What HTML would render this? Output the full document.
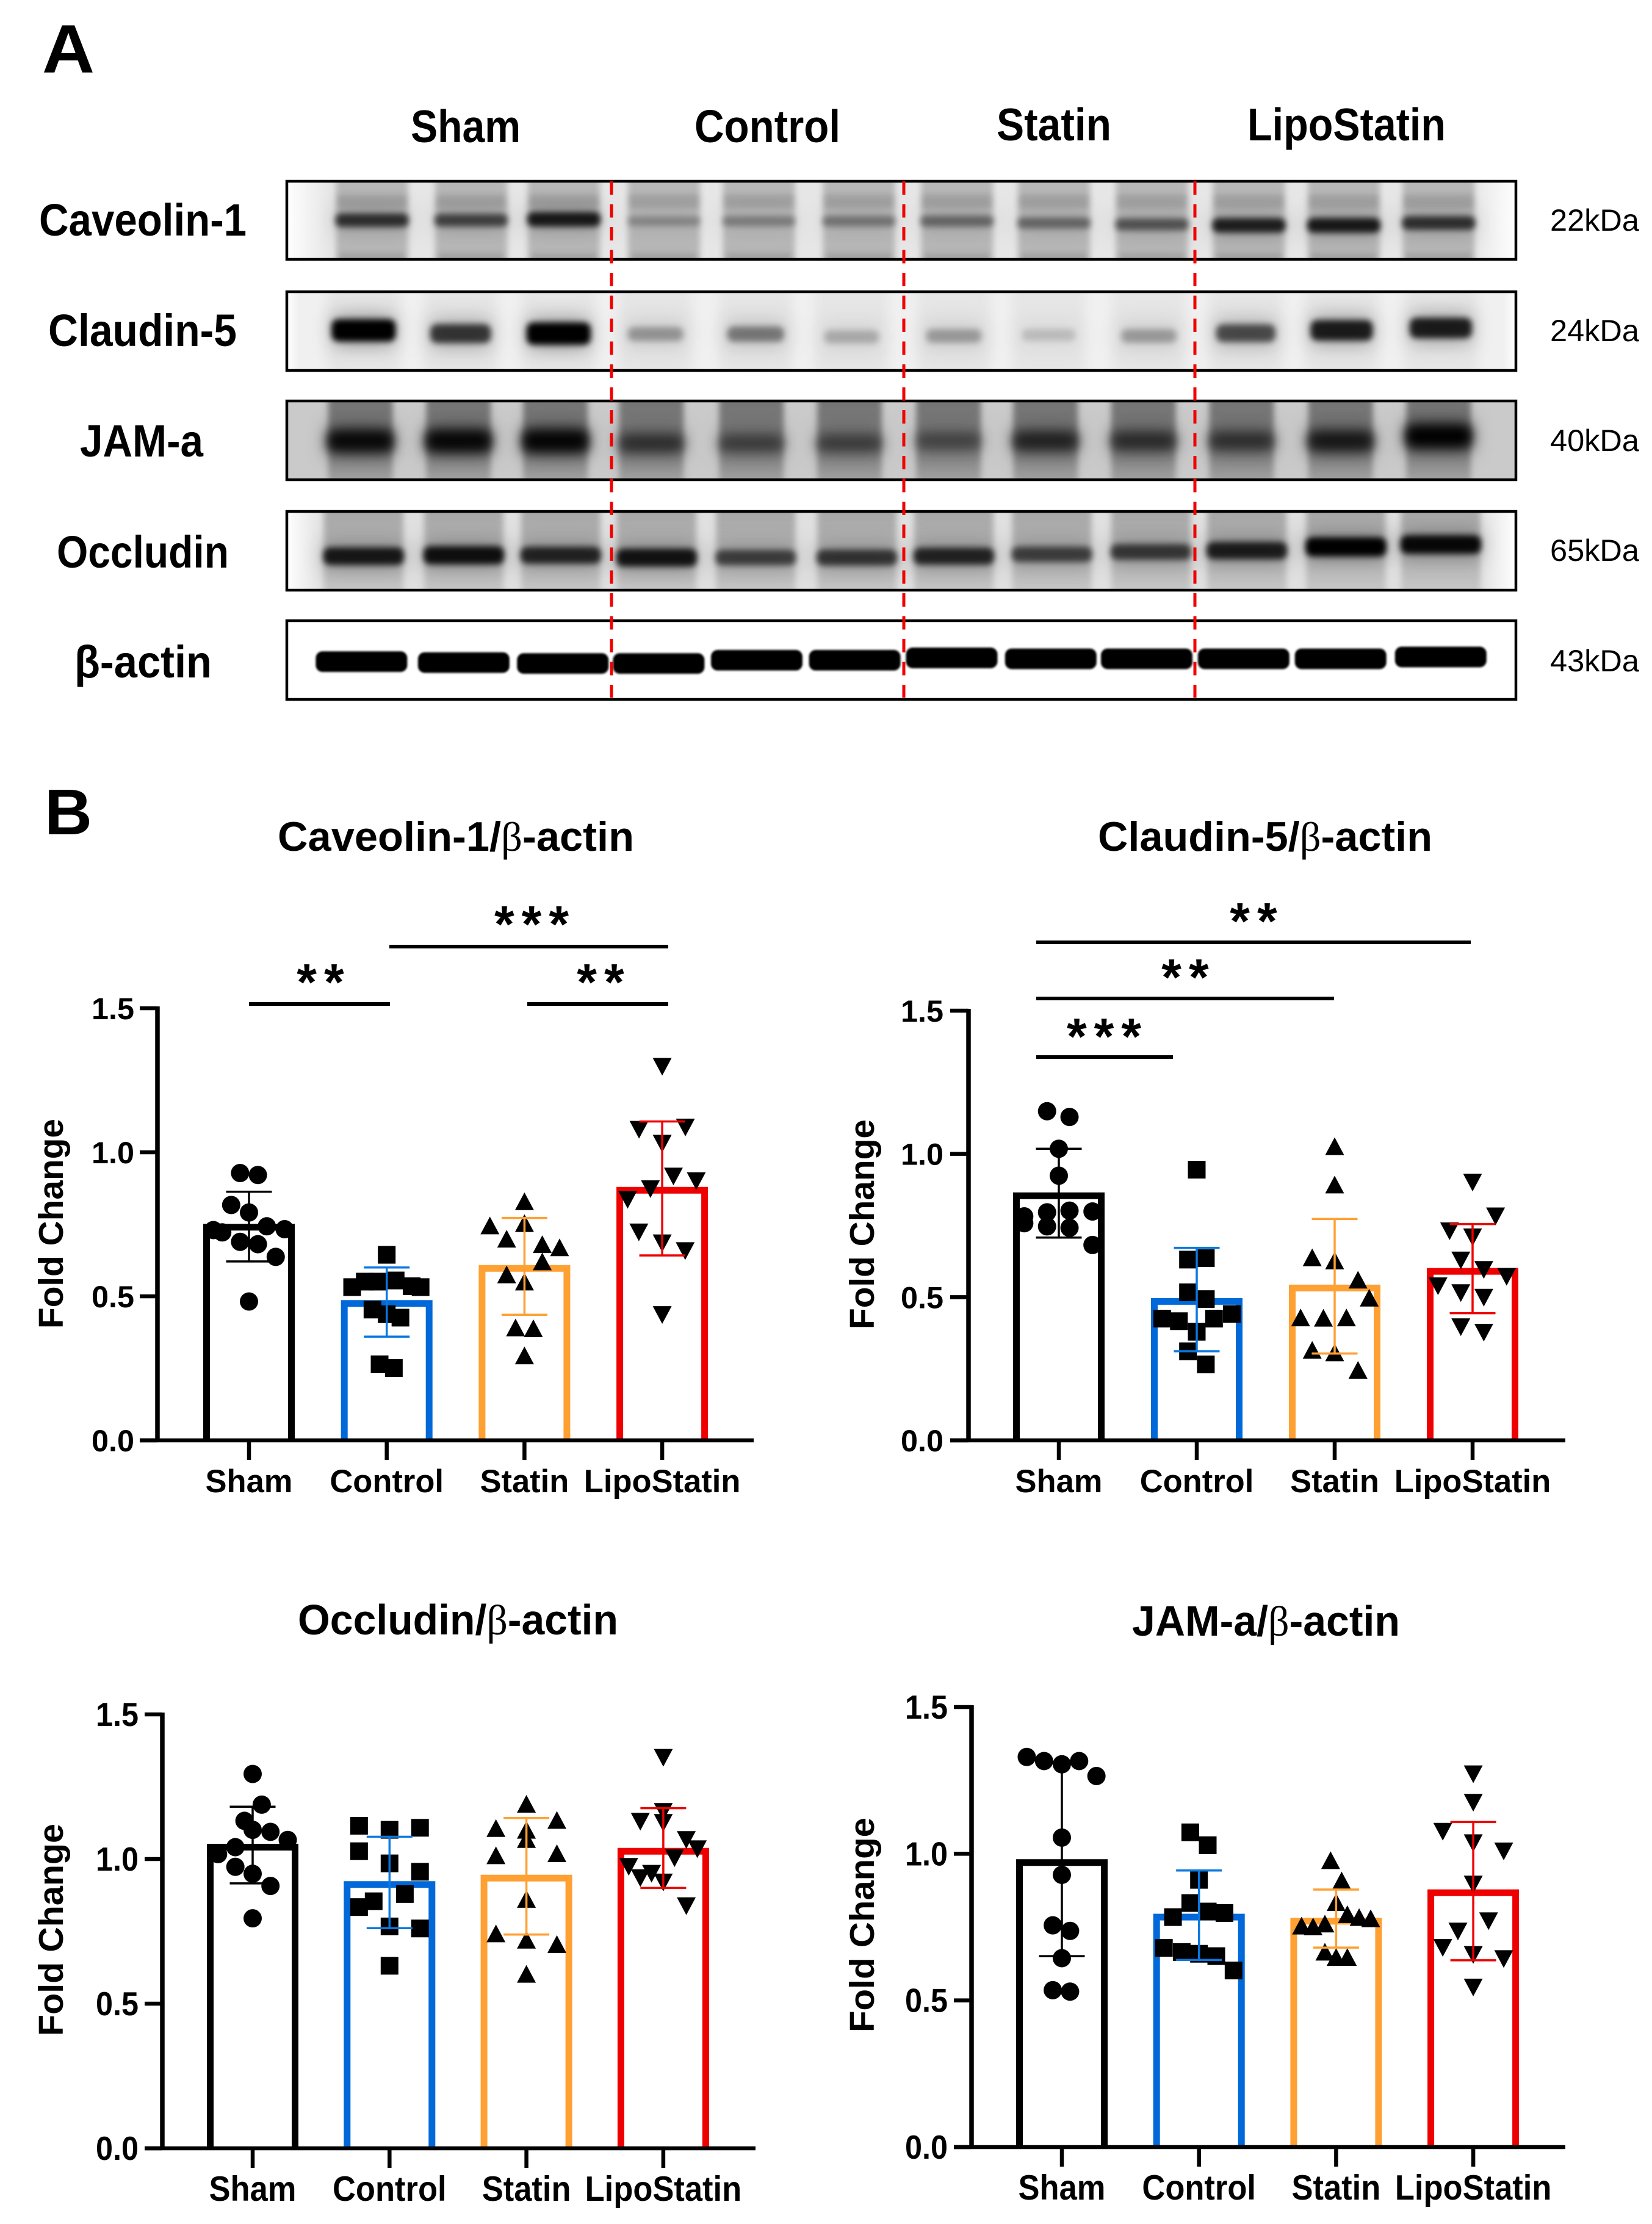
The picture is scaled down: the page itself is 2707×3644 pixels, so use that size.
<!DOCTYPE html>
<html lang="en">
<head>
<meta charset="utf-8">
<title>Western blots and fold change bar charts</title>
<style>
html,body{margin:0;padding:0;background:#fff;}
svg{display:block;}
text{font-family:"Liberation Sans",Arial,sans-serif;fill:#000;}
.b{font-weight:700;}
</style>
</head>
<body>
<svg id="figure" xmlns="http://www.w3.org/2000/svg" width="2707" height="3644" viewBox="0 0 2707 3644">
<defs>
<filter id="blur1" x="-20%" y="-50%" width="140%" height="200%"><feGaussianBlur stdDeviation="1.5"/></filter>
<filter id="blur5" x="-20%" y="-60%" width="140%" height="220%"><feGaussianBlur stdDeviation="5"/></filter>
<filter id="blur9" x="-30%" y="-60%" width="160%" height="220%"><feGaussianBlur stdDeviation="9"/></filter>
<filter id="blur16" x="-40%" y="-100%" width="180%" height="300%"><feGaussianBlur stdDeviation="16"/></filter>
<linearGradient id="fadeL"><stop offset="0" stop-color="#fff"/><stop offset="1" stop-color="#fff" stop-opacity="0"/></linearGradient>
<linearGradient id="fadeR"><stop offset="0" stop-color="#fff" stop-opacity="0"/><stop offset="1" stop-color="#fff"/></linearGradient>
<linearGradient id="laneJam" x1="0" y1="0" x2="0" y2="1"><stop offset="0" stop-color="#555" stop-opacity="0.75"/><stop offset="0.6" stop-color="#555" stop-opacity="0.62"/><stop offset="1" stop-color="#555" stop-opacity="0.3"/></linearGradient>
<linearGradient id="laneOcc" x1="0" y1="0" x2="0" y2="1"><stop offset="0" stop-color="#888" stop-opacity="0.65"/><stop offset="0.6" stop-color="#888" stop-opacity="0.5"/><stop offset="1" stop-color="#888" stop-opacity="0.25"/></linearGradient>
</defs>

<text class="b" x="69" y="119" font-size="112" textLength="86" lengthAdjust="spacingAndGlyphs">A</text>
<text class="b" x="73" y="1367" font-size="106" textLength="78" lengthAdjust="spacingAndGlyphs">B</text>

<g>
<text class="b" x="673" y="233" font-size="75" textLength="180" lengthAdjust="spacingAndGlyphs">Sham</text>
<text class="b" x="1138" y="233" font-size="75" textLength="239" lengthAdjust="spacingAndGlyphs">Control</text>
<text class="b" x="1633" y="230" font-size="75" textLength="188" lengthAdjust="spacingAndGlyphs">Statin</text>
<text class="b" x="2044" y="230" font-size="75" textLength="325" lengthAdjust="spacingAndGlyphs">LipoStatin</text>
</g>

<g>
<text class="b" x="64" y="386" font-size="74" textLength="340" lengthAdjust="spacingAndGlyphs">Caveolin-1</text>
<text class="b" x="79" y="567" font-size="74" textLength="309" lengthAdjust="spacingAndGlyphs">Claudin-5</text>
<text class="b" x="131" y="748" font-size="74" textLength="202" lengthAdjust="spacingAndGlyphs">JAM-a</text>
<text class="b" x="93" y="930" font-size="74" textLength="282" lengthAdjust="spacingAndGlyphs">Occludin</text>
<text class="b" x="122" y="1110" font-size="74" textLength="225" lengthAdjust="spacingAndGlyphs">β-actin</text>
</g>

<g id="blots"></g>

<g>
<text x="2540" y="378" font-size="50" textLength="146" lengthAdjust="spacingAndGlyphs">22kDa</text>
<text x="2540" y="559" font-size="50" textLength="146" lengthAdjust="spacingAndGlyphs">24kDa</text>
<text x="2540" y="739" font-size="50" textLength="146" lengthAdjust="spacingAndGlyphs">40kDa</text>
<text x="2540" y="919" font-size="50" textLength="146" lengthAdjust="spacingAndGlyphs">65kDa</text>
<text x="2540" y="1100" font-size="50" textLength="146" lengthAdjust="spacingAndGlyphs">43kDa</text>
</g>

<g id="separators" stroke="#f00000" stroke-width="5" stroke-dasharray="22 15.5">
<line x1="1002" y1="297" x2="1002" y2="1143"/>
<line x1="1481" y1="297" x2="1481" y2="1143"/>
<line x1="1958" y1="297" x2="1958" y2="1143"/>
</g>

<g id="charts"></g>

<g>
<text class="b" x="455" y="1394" font-size="68" textLength="584" lengthAdjust="spacingAndGlyphs">Caveolin-1/<tspan font-family="Liberation Serif" font-weight="400">β</tspan>-actin</text>
<text class="b" x="1799" y="1394" font-size="68" textLength="548" lengthAdjust="spacingAndGlyphs">Claudin-5/<tspan font-family="Liberation Serif" font-weight="400">β</tspan>-actin</text>
<text class="b" x="488" y="2678" font-size="70" textLength="525" lengthAdjust="spacingAndGlyphs">Occludin/<tspan font-family="Liberation Serif" font-weight="400">β</tspan>-actin</text>
<text class="b" x="1855" y="2680" font-size="70" textLength="439" lengthAdjust="spacingAndGlyphs">JAM-a/<tspan font-family="Liberation Serif" font-weight="400">β</tspan>-actin</text>
</g>

<g stroke="#000" stroke-width="6">
<line x1="638" y1="1551" x2="1095" y2="1551"/>
<line x1="408" y1="1645" x2="639" y2="1645"/>
<line x1="864" y1="1645" x2="1095" y2="1645"/>
</g>
<g stroke="#000" stroke-width="6">
<line x1="1698" y1="1544" x2="2410" y2="1544"/>
<line x1="1698" y1="1636" x2="2186" y2="1636"/>
<line x1="1698" y1="1732" x2="1922" y2="1732"/>
</g>
<g class="b" font-size="84" text-anchor="middle" letter-spacing="12">
<text class="b" x="877" y="1543">***</text>
<text class="b" x="531" y="1638">**</text>
<text class="b" x="990" y="1638">**</text>
<text class="b" x="2060" y="1538">**</text>
<text class="b" x="1948" y="1630">**</text>
<text class="b" x="1815" y="1727">***</text>
</g>
</svg>

<script>
// ---------- Chart data ----------
const categories = ['Sham', 'Control', 'Statin', 'LipoStatin'];
const yTickValues = [0, 0.5, 1.0, 1.5];
const yTickLabels = ['0.0', '0.5', '1.0', '1.5'];

const caveolinMeans = [0.74, 0.475, 0.597, 0.868];
const caveolinErrLow = [0.621, 0.36, 0.436, 0.642];
const caveolinErrHigh = [0.863, 0.60, 0.772, 1.107];
const caveolinSham = [0.928, 0.921, 0.817, 0.791, 0.730, 0.722, 0.743, 0.733, 0.689, 0.681, 0.637, 0.482];
const caveolinControl = [0.644, 0.532, 0.551, 0.551, 0.555, 0.535, 0.532, 0.454, 0.438, 0.426, 0.264, 0.251];
const caveolinStatin = [0.830, 0.746, 0.754, 0.700, 0.681, 0.670, 0.621, 0.576, 0.551, 0.392, 0.389, 0.295];
const caveolinLipo = [1.297, 1.078, 1.086, 1.030, 0.916, 0.900, 0.872, 0.835, 0.722, 0.684, 0.657, 0.435];

const claudinMeans = [0.854, 0.485, 0.532, 0.590];
const claudinErrLow = [0.708, 0.311, 0.303, 0.444];
const claudinErrHigh = [1.018, 0.672, 0.773, 0.755];
const claudinSham = [1.149, 1.129, 1.018, 0.924, 0.782, 0.758, 0.796, 0.747, 0.802, 0.742, 0.799, 0.682];
const claudinControl = [0.945, 0.631, 0.636, 0.517, 0.493, 0.425, 0.416, 0.379, 0.425, 0.441, 0.311, 0.265];
const claudinStatin = [1.027, 0.893, 0.639, 0.628, 0.561, 0.498, 0.429, 0.428, 0.429, 0.316, 0.307, 0.246];
const claudinLipo = [0.900, 0.782, 0.730, 0.709, 0.628, 0.595, 0.571, 0.538, 0.514, 0.498, 0.395, 0.376];

const occludinMeans = [1.041, 0.912, 0.934, 1.027];
const occludinErrLow = [0.916, 0.761, 0.739, 0.900];
const occludinErrHigh = [1.181, 1.077, 1.142, 1.176];
const occludinSham = [1.294, 1.188, 1.132, 1.101, 1.094, 1.066, 1.041, 1.017, 0.973, 0.949, 0.907, 0.795];
const occludinControl = [1.115, 1.101, 1.108, 1.027, 0.985, 0.956, 0.854, 0.834, 0.879, 0.767, 0.760, 0.631];
const occludinStatin = [1.191, 1.107, 1.135, 1.101, 1.069, 1.013, 1.020, 0.862, 0.743, 0.721, 0.706, 0.603];
const occludinLipo = [1.350, 1.163, 1.129, 1.125, 1.066, 1.034, 1.003, 0.973, 0.934, 0.949, 0.919, 0.837];

const jamMeans = [0.970, 0.784, 0.770, 0.867];
const jamErrLow = [0.651, 0.638, 0.680, 0.637];
const jamErrHigh = [1.313, 0.943, 0.878, 1.108];
const jamSham = [1.330, 1.316, 1.305, 1.316, 1.265, 1.055, 0.928, 0.756, 0.737, 0.644, 0.535, 0.530];
const jamControl = [1.073, 1.029, 0.911, 0.832, 0.784, 0.803, 0.798, 0.679, 0.665, 0.659, 0.651, 0.602];
const jamStatin = [0.978, 0.909, 0.835, 0.794, 0.784, 0.780, 0.755, 0.752, 0.762, 0.666, 0.648, 0.648];
const jamLipo = [1.271, 1.174, 1.075, 1.036, 1.008, 0.895, 0.770, 0.735, 0.679, 0.655, 0.641, 0.544];

// Swarm slots: sideways placement of each dot, in units of one marker spacing (categorical, not data).
const caveolinSlots = [
  [-0.5, 0.5, -1, 0, -2, -1.5, 1, 2, -0.5, 0.5, 1.5, 0],
  [0, -1.94, -1.23, -0.5, 0.5, 1.4, 1.9, -0.8, 0, 0.77, -0.4, 0.4],
  [0, -1.94, 0, -1, 1, 1.97, 1, -1, 0, -0.5, 0.5, 0],
  [0, -1.3, 1.3, 0, 0.63, 1.91, -0.66, -1.94, -1.31, 0, 1.29, 0]
];
const claudinSlots = [
  [-0.66, 0.6, 0, 0, -1.94, -1.94, -0.66, -0.66, 0.6, 0.6, 1.89, 1.89],
  [0, -0.49, 0.51, -0.49, 0.51, -1.94, -1, 0, 0.97, 1.97, -0.49, 0.51],
  [0, 0, -1.26, 0, 1.31, 1.94, -1.91, -0.63, 0.66, -1.26, 0, 1.31],
  [0, 1.29, -1.29, 0, -0.66, 0.63, 1.91, -1.94, -0.66, 0.63, -0.66, 0.63]
];
const occludinSlots = [
  [0, 0.51, -0.46, 0, 1, 1.97, -0.97, -1.94, -0.97, 0, 1, 0],
  [-1.71, 0, 1.71, -1.71, 0, 1.71, -0.89, -1.71, 0.86, 0, 1.71, 0],
  [0, -1.71, 1.71, 0, 0, -1.71, 1.71, 0, -1.71, 0, 1.71, 0],
  [0, 0, -1.29, 0, 1.29, 1.91, 0.63, -1.94, -1.29, -0.66, 0, 1.29]
];
const jamSlots = [
  [-1.97, -1, 0, 0.97, 1.94, 0, 0, -0.51, 0.46, 0, -0.51, 0.46],
  [-0.49, 0.49, 0, -0.49, -1.46, 0.49, 1.43, -1.97, -0.97, 0, 0.97, 1.94],
  [-0.31, 0.31, 0, 0.63, 1.29, 1.94, -1.94, -1.29, -0.63, -0.63, 0, 0.63],
  [0, 0, -1.71, 0, 1.71, 0, 0.86, -0.86, -1.71, 0, 1.71, 0]
];

// ---------- Blot band strengths (one per lane) ----------
const caveolinBands = [0.72, 0.62, 0.85, 0.25, 0.3, 0.35, 0.42, 0.42, 0.52, 0.82, 0.85, 0.72];
const claudinBands = [1, 0.72, 1, 0.3, 0.42, 0.22, 0.28, 0.15, 0.28, 0.62, 0.85, 0.85];
const jamBands = [0.9, 0.92, 0.95, 0.55, 0.45, 0.45, 0.4, 0.65, 0.58, 0.55, 0.75, 1];
const occludinBands = [0.85, 0.9, 0.78, 0.88, 0.62, 0.68, 0.78, 0.62, 0.66, 0.82, 1, 0.95];
const actinBands = [1, 1, 1, 1, 1, 1, 1, 1, 1, 1, 1, 1];

const NS = 'http://www.w3.org/2000/svg';
function mk(tag, parent, attrs) {
  const node = document.createElementNS(NS, tag);
  for (const k in attrs) node.setAttribute(k, attrs[k]);
  parent.appendChild(node);
  return node;
}

// ---------- Western blots ----------
const blotRoot = document.getElementById('blots');
const blotLook = [
  { id: 'caveolin', top: 297, h: 128, bg: '#e6e6e6', lane: '#9a9a9a', laneOp: 0.62, laneW: 118, laneBlur: 'blur5', bandH: 20, blur: 'blur5', halo: 0.25, fade: 70, strength: caveolinBands,
    x: [353, 447, 535, 630, 720, 815, 908, 1000, 1093, 1185, 1275, 1365], y: [472, 472, 470, 474, 474, 474, 474, 478, 481, 483, 483, 478], w: 120, extra: true },
  { id: 'claudin', top: 478, h: 129, bg: '#f0f0f0', lane: '#e4e4e4', laneOp: 0.8, laneW: 120, laneBlur: 'blur9', bandH: 28, blur: 'blur5', halo: 0.35, fade: 20, strength: claudinBands,
    x: [345, 437, 530, 622, 717, 808, 905, 995, 1090, 1182, 1273, 1367], y: [708, 715, 715, 716, 716, 722, 720, 718, 720, 714, 708, 703], w: 100 },
  { id: 'jam', top: 657, h: 129, bg: '#cacaca', lane: 'url(#laneJam)', laneOp: 1, laneW: 106, laneBlur: 'blur5', bandH: 28, blur: 'blur9', halo: 0.5, fade: 0, strength: jamBands,
    x: [342, 435, 527, 618, 713, 806, 900, 992, 1085, 1178, 1272, 1365], y: [945, 945, 945, 950, 950, 950, 945, 945, 945, 945, 945, 935], w: 108 },
  { id: 'occludin', top: 838, h: 129, bg: '#e0e0e0', lane: 'url(#laneOcc)', laneOp: 1, laneW: 130, laneBlur: 'blur5', bandH: 24, blur: 'blur5', halo: 0.3, fade: 60, strength: occludinBands,
    x: [345, 440, 532, 623, 717, 813, 905, 998, 1092, 1183, 1277, 1367], y: [1192, 1190, 1190, 1195, 1195, 1195, 1192, 1188, 1183, 1180, 1172, 1167], w: 132 },
  { id: 'beta-actin', top: 1017, h: 129, bg: '#ffffff', lane: '#fff', laneOp: 0, laneW: 0, laneBlur: 'blur5', bandH: 26, blur: 'blur1', halo: 0, fade: 0, strength: actinBands,
    x: [343, 440, 534, 625, 718, 811, 903, 997, 1088, 1180, 1272, 1367], y: [1418, 1420, 1422, 1422, 1415, 1415, 1410, 1412, 1412, 1412, 1412, 1408], w: 150 }
];
const blotLeft = 470, blotRight = 2484, blotXScale = 1.727, blotYScale = 0.7645;
const blotDefs = document.querySelector('defs');
blotLook.forEach(function (b) {
  const clip = mk('clipPath', blotDefs, { id: 'clip-' + b.id });
  mk('rect', clip, { x: blotLeft, y: b.top, width: blotRight - blotLeft, height: b.h });
  const g = mk('g', blotRoot, { 'clip-path': 'url(#clip-' + b.id + ')' });
  
  
  mk('rect', g, { x: blotLeft, y: b.top, width: blotRight - blotLeft, height: b.h, fill: b.bg });
  if (b.laneW) {
    const lanes = mk('g', g, { filter: 'url(#' + b.laneBlur + ')', fill: b.lane, 'fill-opacity': b.laneOp });
    b.x.forEach(function (zx) {
      mk('rect', lanes, { x: zx * blotXScale - b.laneW / 2, y: b.top - 10, width: b.laneW, height: b.h + 20 });
    });
  }
  if (b.fade) {
    mk('rect', g, { x: blotLeft, y: b.top, width: b.fade, height: b.h, fill: 'url(#fadeL)' });
    mk('rect', g, { x: blotRight - b.fade, y: b.top, width: b.fade, height: b.h, fill: 'url(#fadeR)' });
  }
  if (b.extra) {
    const faint = mk('g', g, { filter: 'url(#blur5)', fill: '#000', 'fill-opacity': 0.12 });
    b.x.forEach(function (zx) {
      mk('rect', faint, { x: zx * blotXScale - 58, y: b.top + 22, width: 116, height: 22 });
      mk('rect', faint, { x: zx * blotXScale - 54, y: b.top + 118, width: 108, height: 14 });
    });
  }
  if (b.halo) {
    const halo = mk('g', g, { filter: 'url(#blur16)', fill: '#000' });
    b.strength.forEach(function (s, i) {
      const r = mk('rect', halo, { x: b.x[i] * blotXScale - b.w * 0.5, y: b.y[i] * blotYScale - b.bandH * 0.9, width: b.w, height: b.bandH * 1.8, 'fill-opacity': s * b.halo });
      
      
    });
  }
  const bands = mk('g', g, { filter: 'url(#' + b.blur + ')', fill: '#000' });
  b.strength.forEach(function (s, i) {
    const wScale = b.id === 'claudin' ? 0.85 + 0.2 * s : 1;
    const w = b.w * wScale;
    const h = b.bandH * (0.6 + 0.7 * s);
    const r = mk('rect', bands, { x: b.x[i] * blotXScale - w / 2, y: b.y[i] * blotYScale - h / 2, width: w, height: h, rx: Math.min(h / 2.4, 11), 'fill-opacity': s });
    
    
  });
  const frame = mk('rect', blotRoot, { x: blotLeft, y: b.top, width: blotRight - blotLeft, height: b.h, fill: 'none', stroke: '#000', 'stroke-width': 4.5 });
  
  
});

// ---------- Bar charts ----------
const barColors = ['#000000', '#0068d8', '#ffa033', '#ee0000'];
const errColors = ['#000000', '#0a78e0', '#ffa033', '#ee0000'];
const chartRoot = document.getElementById('charts');

function markerFor(group, px, py, shape) {
  const s = 29;
  if (shape === 0) return mk('circle', group, { cx: px, cy: py, r: s / 2 + 0.5, fill: '#000' });
  if (shape === 1) return mk('rect', group, { x: px - s / 2, y: py - s / 2, width: s, height: s, fill: '#000' });
  const dir = shape === 2 ? 1 : -1;
  const pts = [px - s / 2 - 1, py + dir * s / 2, px + s / 2 + 1, py + dir * s / 2, px, py - dir * s / 2];
  return mk('polygon', group, { points: pts.join(','), fill: '#000' });
}

function drawChart(cfg) {
  const g = mk('g', chartRoot, {});
  
  
  const yScale = function (v) { return cfg.y0 + (cfg.yTop - cfg.y0) * v / 1.5; };
  const xScale = function (i) { return cfg.x0 + cfg.step * i; };
  const slotPx = 29.2;

  // bars
  cfg.means.forEach(function (m, i) {
    const cx = xScale(i), half = 69.5, top = yScale(m);
    const bar = mk('path', g, { d: 'M' + (cx - half) + ' ' + cfg.y0 + 'V' + top + 'H' + (cx + half) + 'V' + cfg.y0, fill: 'none', stroke: barColors[i], 'stroke-width': 11 });
    
    
  });

  // points
  cfg.points.forEach(function (vals, i) {
    const pg = mk('g', g, {});
    
    
    vals.forEach(function (v, j) {
      const mark = markerFor(pg, xScale(i) + cfg.slots[i][j] * slotPx, yScale(v), i);
      
      
    });
  });

  // error bars
  cfg.means.forEach(function (m, i) {
    const cx = xScale(i), lo = yScale(cfg.low[i]), hi = yScale(cfg.high[i]);
    const eb = mk('path', g, { d: 'M' + (cx - 37.5) + ' ' + hi + 'H' + (cx + 37.5) + 'M' + cx + ' ' + hi + 'V' + lo + 'M' + (cx - 37.5) + ' ' + lo + 'H' + (cx + 37.5), fill: 'none', stroke: errColors[i], 'stroke-width': 3.5 });
    
    
  });

  // axes
  const yAxis = mk('line', g, { x1: cfg.ax, y1: cfg.yTop - 3, x2: cfg.ax, y2: cfg.y0 + 3, stroke: '#000', 'stroke-width': 7.5 });
  
  
  const xAxis = mk('line', g, { x1: cfg.tickLeft, y1: cfg.y0, x2: cfg.xEnd, y2: cfg.y0, stroke: '#000', 'stroke-width': 6.5 });
  
  

  yTickValues.forEach(function (v, i) {
    const y = yScale(v);
    const tick = mk('line', g, { x1: cfg.tickLeft, y1: y, x2: cfg.ax, y2: y, stroke: '#000', 'stroke-width': 6.5 });
    
    
    const label = mk('text', g, { x: cfg.tickLabelX, y: y + cfg.tickDy, 'font-size': cfg.tickFont, 'font-weight': 700, textLength: 70, lengthAdjust: 'spacingAndGlyphs' });
    
    
    label.textContent = yTickLabels[i];
  });

  categories.forEach(function (c, i) {
    const cx = xScale(i);
    const tick = mk('line', g, { x1: cx, y1: cfg.y0, x2: cx, y2: cfg.y0 + 32, stroke: '#000', 'stroke-width': 6.5 });
    
    
    const label = mk('text', g, { x: 0, y: 0, 'font-size': 52.5, 'font-weight': 700, 'text-anchor': 'middle', transform: 'translate(' + cx + ' ' + cfg.catY + ') scale(1 ' + cfg.catStretch + ')' });
    
    
    label.textContent = c;
  });

  const yTitle = mk('text', g, { x: 0, y: 0, 'font-size': 56.5, 'font-weight': 700, 'text-anchor': 'middle', textLength: cfg.titleLen, lengthAdjust: 'spacingAndGlyphs', transform: 'translate(' + cfg.titleX + ' ' + cfg.titleY + ') rotate(-90)' });
  
  
  yTitle.textContent = 'Fold Change';
}

drawChart({ name: 'caveolin', means: caveolinMeans, low: caveolinErrLow, high: caveolinErrHigh, points: [caveolinSham, caveolinControl, caveolinStatin, caveolinLipo], slots: caveolinSlots,
  x0: 408, step: 225.7, ax: 258, y0: 2360, yTop: 1652, tickLeft: 229, xEnd: 1235, tickLabelX: 150, tickDy: 18, tickFont: 50, catY: 2445, catStretch: 1, titleX: 103, titleY: 2005, titleLen: 344 });
drawChart({ name: 'claudin', means: claudinMeans, low: claudinErrLow, high: claudinErrHigh, points: [claudinSham, claudinControl, claudinStatin, claudinLipo], slots: claudinSlots,
  x0: 1735, step: 226, ax: 1587, y0: 2360, yTop: 1656, tickLeft: 1557, xEnd: 2565, tickLabelX: 1476, tickDy: 18, tickFont: 50, catY: 2445, catStretch: 1, titleX: 1432, titleY: 2006, titleLen: 344 });
drawChart({ name: 'occludin', means: occludinMeans, low: occludinErrLow, high: occludinErrHigh, points: [occludinSham, occludinControl, occludinStatin, occludinLipo], slots: occludinSlots,
  x0: 414, step: 224.3, ax: 266, y0: 3520, yTop: 2809, tickLeft: 237, xEnd: 1238, tickLabelX: 157, tickDy: 19, tickFont: 55, catY: 3606, catStretch: 1.1, titleX: 103, titleY: 3162, titleLen: 348 });
drawChart({ name: 'jam-a', means: jamMeans, low: jamErrLow, high: jamErrHigh, points: [jamSham, jamControl, jamStatin, jamLipo], slots: jamSlots,
  x0: 1740, step: 224.7, ax: 1592, y0: 3518, yTop: 2797, tickLeft: 1563, xEnd: 2565, tickLabelX: 1483, tickDy: 19, tickFont: 55, catY: 3604, catStretch: 1.1, titleX: 1432, titleY: 3154, titleLen: 352 });
</script>
</body>
</html>
